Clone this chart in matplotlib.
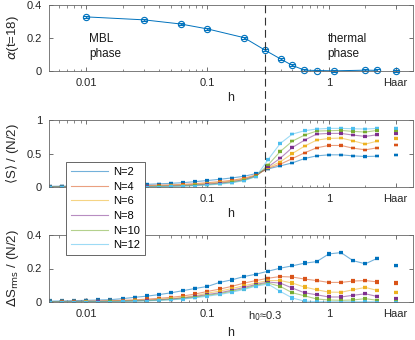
import numpy as np
import matplotlib
matplotlib.use("Agg")
import matplotlib.pyplot as plt
from matplotlib.lines import Line2D
from matplotlib.ticker import FixedLocator, NullFormatter
from matplotlib.transforms import blended_transform_factory

plt.rcParams['font.family'] = ['Liberation Sans', 'DejaVu Sans']
plt.rcParams['mathtext.fontset'] = 'dejavusans'
plt.rcParams['font.size'] = 8

# ---- data ----
HAAR = 3.55   # where the "Haar" column sits on the log axis
H0 = 0.3

h_alpha = [0.01, 0.03, 0.06, 0.1, 0.2, 0.3, 0.4, 0.5, 0.63, 0.8, 1.1, 2.0, 2.5]
alpha = [0.328, 0.31, 0.285, 0.255, 0.202, 0.125, 0.073, 0.034, 0.005, 0.003, 0.001, 0.005, 0.004]
alpha_haar = 0.0
alpha_err = 0.006

h = [0.004, 0.005, 0.0063, 0.0079, 0.01, 0.0126, 0.0158, 0.02, 0.0251, 0.0316,
     0.0398, 0.0501, 0.0631, 0.0794, 0.1, 0.126, 0.158, 0.2, 0.251, 0.316,
     0.398, 0.501, 0.631, 0.794, 1.0, 1.26, 1.58, 2.0, 2.51]

sizes = [2, 4, 6, 8, 10, 12]

S = {
    2: [0.008, 0.01, 0.012, 0.015, 0.018, 0.021, 0.025, 0.029, 0.034, 0.04, 0.047, 0.055, 0.065, 0.08, 0.097,
        0.115, 0.135, 0.16, 0.2, 0.27, 0.315, 0.36, 0.425, 0.465, 0.48, 0.48, 0.465, 0.455, 0.46],
    4: [0.003, 0.004, 0.005, 0.006, 0.008, 0.01, 0.012, 0.015, 0.018, 0.022, 0.027, 0.033, 0.04, 0.05, 0.065,
        0.08, 0.1, 0.13, 0.18, 0.28, 0.34, 0.425, 0.51, 0.585, 0.62, 0.62, 0.58, 0.555, 0.585],
    6: [0.001, 0.002, 0.002, 0.003, 0.004, 0.005, 0.007, 0.009, 0.011, 0.014, 0.018, 0.023, 0.03, 0.04, 0.053,
        0.068, 0.088, 0.12, 0.17, 0.29, 0.375, 0.5, 0.61, 0.70, 0.725, 0.73, 0.69, 0.64, 0.685],
    8: [0.001, 0.001, 0.001, 0.002, 0.002, 0.003, 0.004, 0.005, 0.007, 0.009, 0.012, 0.016, 0.022, 0.031, 0.043,
        0.058, 0.078, 0.11, 0.165, 0.3, 0.43, 0.59, 0.70, 0.79, 0.80, 0.80, 0.775, 0.755, 0.78],
    10: [0.0, 0.0, 0.001, 0.001, 0.001, 0.002, 0.002, 0.003, 0.004, 0.006, 0.008, 0.011, 0.016, 0.024, 0.035,
         0.05, 0.07, 0.1, 0.16, 0.33, 0.53, 0.685, 0.775, 0.835, 0.84, 0.845, 0.83, 0.82, 0.845],
    12: [0.0, 0.0, 0.0, 0.0, 0.001, 0.001, 0.001, 0.002, 0.003, 0.004, 0.006, 0.008, 0.012, 0.019, 0.029,
         0.043, 0.062, 0.095, 0.155, 0.41, 0.65, 0.79, 0.84, 0.865, 0.875, 0.875, 0.87, 0.865, 0.875],
}
S_haar = [0.475, 0.625, 0.725, 0.80, 0.84, 0.875]

dS = {
    2: [0.004, 0.005, 0.006, 0.008, 0.01, 0.012, 0.014, 0.02, 0.028, 0.035, 0.044, 0.055, 0.068, 0.081, 0.093,
        0.117, 0.132, 0.152, 0.166, 0.184, 0.202, 0.216, 0.232, 0.241, 0.287, 0.295, 0.247, 0.228, 0.261],
    4: [0.002, 0.002, 0.003, 0.004, 0.005, 0.006, 0.008, 0.01, 0.013, 0.017, 0.022, 0.028, 0.036, 0.048, 0.063,
        0.077, 0.093, 0.113, 0.128, 0.142, 0.152, 0.149, 0.137, 0.128, 0.117, 0.117, 0.125, 0.128, 0.12],
    6: [0.001, 0.001, 0.002, 0.002, 0.003, 0.004, 0.005, 0.007, 0.009, 0.012, 0.016, 0.021, 0.028, 0.038, 0.053,
        0.065, 0.08, 0.097, 0.113, 0.128, 0.128, 0.113, 0.089, 0.073, 0.059, 0.058, 0.073, 0.087, 0.069],
    8: [0.001, 0.001, 0.001, 0.002, 0.002, 0.003, 0.004, 0.005, 0.007, 0.01, 0.013, 0.018, 0.024, 0.033, 0.045,
        0.055, 0.07, 0.087, 0.105, 0.119, 0.113, 0.083, 0.055, 0.043, 0.03, 0.03, 0.04, 0.049, 0.033],
    10: [0.001, 0.001, 0.001, 0.001, 0.002, 0.002, 0.003, 0.004, 0.006, 0.008, 0.011, 0.015, 0.021, 0.029, 0.04,
         0.05, 0.064, 0.08, 0.1, 0.113, 0.093, 0.055, 0.037, 0.018, 0.012, 0.01, 0.012, 0.02, 0.01],
    12: [0.0, 0.0, 0.001, 0.001, 0.001, 0.002, 0.002, 0.003, 0.005, 0.007, 0.009, 0.013, 0.018, 0.025, 0.035,
         0.045, 0.058, 0.075, 0.095, 0.107, 0.063, 0.024, 0.005, 0.002, 0.002, 0.002, 0.002, 0.002, 0.002],
}
dS_haar = [0.216, 0.113, 0.057, 0.02, 0.006, 0.0]
err = 0.004

colors = [(0, 0.447, 0.741), (0.85, 0.325, 0.098), (0.929, 0.694, 0.125),
          (0.494, 0.184, 0.556), (0.466, 0.674, 0.188), (0.301, 0.745, 0.933)]

# ---- figure ----
W, H = 415, 340
fig = plt.figure(figsize=(W / 100, H / 100), dpi=100)

def px_axes(l, t, r, b):
    return fig.add_axes([l / W, 1 - b / H, (r - l) / W, (b - t) / H])

ax1 = px_axes(49, 5, 413, 71)
ax2 = px_axes(49, 120, 413, 187)
ax3 = px_axes(49, 235, 413, 302)

minor = [0.006, 0.007, 0.008, 0.009, 0.02, 0.03, 0.04, 0.05, 0.06, 0.07, 0.08, 0.09,
         0.2, 0.3, 0.4, 0.5, 0.6, 0.7, 0.8, 0.9, 2]

for ax in (ax1, ax2, ax3):
    ax.set_xscale('log')
    ax.set_xlim(0.00494, 4.94)
    ax.xaxis.set_minor_locator(FixedLocator(minor))
    ax.xaxis.set_minor_formatter(NullFormatter())
    ax.tick_params(which='both', direction='in', top=True, right=True,
                   colors='0.35', labelcolor='0.15', labelsize=8)
    ax.tick_params(axis='x', pad=5)
    ax.tick_params(axis='y', pad=5)
    ax.tick_params(which='major', length=3, width=0.6)
    ax.tick_params(which='minor', length=1.8, width=0.5)
    for sp in ax.spines.values():
        sp.set_color('0.4')
        sp.set_linewidth(0.6)
    ax.set_xlabel('h', fontsize=9, color='0.15', labelpad=3)

# top panel
ax1.errorbar(h_alpha, alpha, yerr=alpha_err, color=colors[0], lw=0.7, marker='o', ms=4.5,
             mfc='none', mew=0.8, capsize=2, elinewidth=0.6, clip_on=False)
ax1.errorbar([HAAR], [alpha_haar], yerr=alpha_err, color=colors[0], marker='o', ms=4.5,
             mfc='none', mew=0.8, capsize=2, elinewidth=0.6, ls='none', clip_on=False)
ax1.set_ylim(0, 0.4)
ax1.set_yticks([0, 0.2, 0.4])
ax1.set_yticklabels(['0', '0.2', '0.4'])
ax1.set_xticks([0.01, 0.1, 1, HAAR])
ax1.set_xticklabels(['0.01', '0.1', '1', 'Haar'])
ax1.set_ylabel(r'$\alpha$(t=18)', fontsize=9.5, color='0.15', labelpad=4)
ax1.text(0.0106, 0.148, 'MBL\nphase', fontsize=8.5, va='center', ha='left', color='0.1', linespacing=1.25)
ax1.text(0.98, 0.148, 'thermal\nphase', fontsize=8.5, va='center', ha='left', color='0.1', linespacing=1.25)

# middle and bottom panels
handles = []
for i, n in enumerate(sizes):
    c = colors[i]
    ln, = ax2.plot(h, S[n], color=c, lw=0.8, alpha=0.55, label='N=%d' % n)
    ax2.errorbar(h, S[n], yerr=err, color=c, ls='none', marker='_', ms=3.5, mew=1.6,
                 capsize=1.5, elinewidth=0.6)
    ax2.errorbar([HAAR], [S_haar[i]], yerr=err, color=c, ls='none', marker='_', ms=3.5,
                 mew=1.6, capsize=1.5, elinewidth=0.6)
    ax3.plot(h, dS[n], color=c, lw=0.8, alpha=0.55)
    ax3.errorbar(h, dS[n], yerr=err, color=c, ls='none', marker='_', ms=3.5, mew=1.6,
                 capsize=1.5, elinewidth=0.6)
    ax3.errorbar([HAAR], [dS_haar[i]], yerr=err, color=c, ls='none', marker='_', ms=3.5,
                 mew=1.6, capsize=1.5, elinewidth=0.6)
    handles.append(ln)

ax2.set_ylim(0, 1)
ax2.set_yticks([0, 0.5, 1])
ax2.set_yticklabels(['0', '0.5', '1'])
ax2.set_xticks([0.01, 0.1, 1, HAAR])
ax2.set_xticklabels(['0.01', '0.1', '1', 'Haar'])
ax2.set_ylabel(r'$\langle$S$\rangle$ / (N/2)', fontsize=9.5, color='0.15', labelpad=4)

ax3.set_ylim(0, 0.4)
ax3.set_yticks([0, 0.2, 0.4])
ax3.set_yticklabels(['0', '0.2', '0.4'])
ax3.set_xticks([0.01, 0.1, H0, 1, HAAR])
ax3.set_xticklabels(['0.01', '0.1', r'h$_0$≈0.3', '1', 'Haar'])
ax3.set_ylabel(r'$\Delta$S$_{\rm rms}$ / (N/2)', fontsize=9.5, color='0.15', labelpad=4)

# dashed h0 line through all panels
tr = blended_transform_factory(ax3.transData, fig.transFigure)
fig.add_artist(Line2D([H0, H0], [1 - 5 / H, 1 - 302 / H], transform=tr,
                      color='0.2', lw=0.8, ls=(0, (7, 4)), zorder=10))

leg = fig.legend(handles=handles, loc='upper left',
                 bbox_to_anchor=(66 / W, 1 - 162 / H), borderaxespad=0,
                 fontsize=8, frameon=True, fancybox=False, framealpha=1,
                 handlelength=3.3, labelspacing=0.42, borderpad=0.45, handletextpad=0.45)
leg.get_frame().set_edgecolor('0.3')
leg.get_frame().set_linewidth(0.6)
leg.set_zorder(20)

fig.savefig('out.png', dpi=100)
